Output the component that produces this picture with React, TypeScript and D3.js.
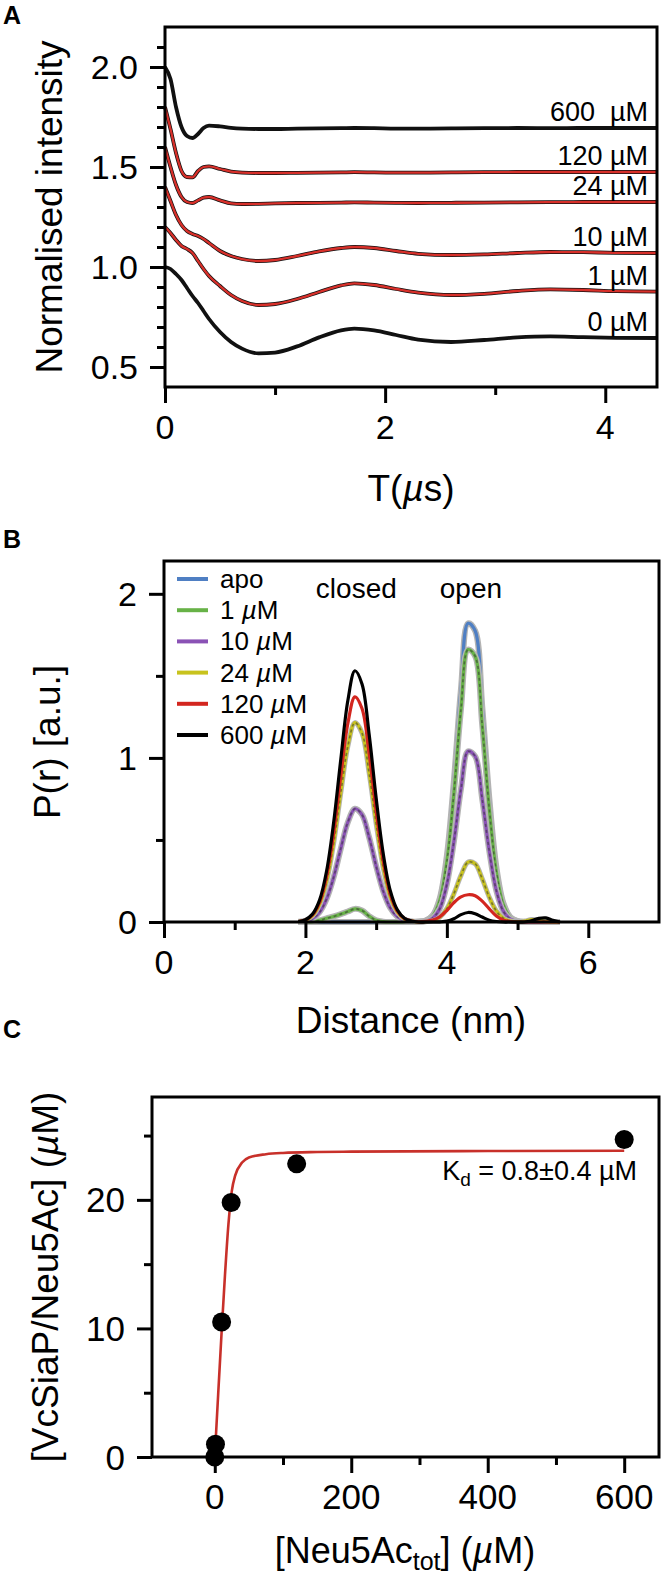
import React, { useEffect, useRef } from 'react';
import * as d3 from 'd3';

// ---------- panel A: DEER time traces ----------
const timeGrid = [0, 0.05, 0.1, 0.15, 0.2, 0.25, 0.3, 0.35, 0.4, 0.5, 0.6, 0.7, 0.85, 1.0, 1.2, 1.4, 1.6, 1.72, 1.9, 2.1, 2.3, 2.6, 2.9, 3.2, 3.5, 3.8, 4.1, 4.47];
const trace600 = [2.0, 1.94, 1.8, 1.7, 1.655, 1.645, 1.665, 1.695, 1.707, 1.703, 1.696, 1.692, 1.69, 1.69, 1.692, 1.693, 1.694, 1.695, 1.694, 1.692, 1.692, 1.693, 1.694, 1.695, 1.694, 1.695, 1.695, 1.695];
const trace120 = [1.8, 1.69, 1.57, 1.48, 1.45, 1.448, 1.48, 1.5, 1.503, 1.49, 1.477, 1.472, 1.47, 1.47, 1.471, 1.472, 1.473, 1.474, 1.473, 1.472, 1.472, 1.473, 1.474, 1.475, 1.475, 1.475, 1.475, 1.475];
const trace24 = [1.6, 1.5, 1.41, 1.35, 1.325, 1.32, 1.333, 1.347, 1.35, 1.333, 1.318, 1.315, 1.316, 1.318, 1.32, 1.321, 1.322, 1.323, 1.322, 1.321, 1.32, 1.321, 1.322, 1.323, 1.324, 1.325, 1.325, 1.325];
const trace10 = [1.4, 1.33, 1.26, 1.21, 1.18, 1.165, 1.155, 1.14, 1.12, 1.08, 1.055, 1.04, 1.03, 1.035, 1.055, 1.078, 1.095, 1.1, 1.095, 1.08, 1.066, 1.06, 1.063, 1.07, 1.075, 1.074, 1.071, 1.07];
const trace1 = [1.2, 1.17, 1.135, 1.105, 1.09, 1.07, 1.03, 0.99, 0.955, 0.905, 0.86, 0.83, 0.81, 0.815, 0.84, 0.875, 0.908, 0.918, 0.91, 0.89, 0.872, 0.86, 0.866, 0.88, 0.888, 0.885, 0.879, 0.877];
const trace0 = [1.0, 0.99, 0.965, 0.935, 0.895, 0.855, 0.82, 0.78, 0.74, 0.675, 0.625, 0.592, 0.568, 0.572, 0.603, 0.648, 0.683, 0.692, 0.683, 0.66, 0.637, 0.625, 0.635, 0.648, 0.653, 0.649, 0.646, 0.645];
const traceLabels = ['600\u00a0\u00a0µM', '120 µM', '24 µM', '10 µM', '1 µM', '0 µM'];
const traceHasFit = [false, true, true, true, true, false];

// ---------- panel B: distance distributions ----------
const distGrid = [1.9, 2.0, 2.1, 2.2, 2.3, 2.4, 2.5, 2.6, 2.7, 2.8, 2.9, 3.0, 3.1, 3.2, 3.3, 3.4, 3.5, 3.6, 3.7, 3.8, 3.9, 4.0, 4.1, 4.2, 4.3, 4.4, 4.5, 4.6, 4.7, 4.8, 4.9, 5.0, 5.1, 5.2, 5.3, 5.4, 5.5, 5.6];
const pApo = [0, 0, 0, 0, 0, 0, 0, 0, 0, 0, 0, 0, 0, 0, 0, 0, 0, 0.002, 0.009, 0.04, 0.144, 0.403, 0.863, 1.422, 1.82, 1.775, 1.314, 0.756, 0.335, 0.114, 0.029, 0.006, 0, 0, 0, 0, 0, 0];
const p1 = [0, 0, 0.002, 0.01, 0.022, 0.034, 0.048, 0.064, 0.08, 0.07, 0.036, 0.01, 0.002, 0, 0, 0, 0, 0.001, 0.008, 0.037, 0.132, 0.368, 0.788, 1.299, 1.66, 1.62, 1.2, 0.69, 0.306, 0.104, 0.027, 0.005, 0, 0, 0, 0, 0, 0];
const p10 = [0.001, 0.006, 0.021, 0.06, 0.141, 0.274, 0.447, 0.608, 0.69, 0.654, 0.517, 0.341, 0.188, 0.086, 0.033, 0.01, 0.003, 0.001, 0.005, 0.023, 0.082, 0.23, 0.492, 0.812, 1.04, 1.01, 0.75, 0.432, 0.191, 0.065, 0.017, 0.003, 0, 0, 0, 0, 0, 0];
const p24 = [0.002, 0.011, 0.038, 0.106, 0.248, 0.483, 0.787, 1.071, 1.215, 1.152, 0.91, 0.6, 0.331, 0.151, 0.059, 0.018, 0.005, 0, 0.002, 0.008, 0.029, 0.081, 0.173, 0.284, 0.365, 0.355, 0.263, 0.151, 0.067, 0.023, 0.006, 0.002, 0.006, 0.015, 0.012, 0.004, 0, 0];
const p120 = [0.003, 0.012, 0.043, 0.12, 0.28, 0.546, 0.889, 1.21, 1.372, 1.301, 1.028, 0.678, 0.373, 0.171, 0.066, 0.021, 0.006, 0.001, 0.004, 0.012, 0.032, 0.07, 0.118, 0.153, 0.166, 0.16, 0.127, 0.08, 0.036, 0.011, 0.003, 0, 0, 0, 0, 0, 0, 0];
const p600 = [0.003, 0.014, 0.048, 0.133, 0.312, 0.609, 0.991, 1.35, 1.531, 1.451, 1.147, 0.756, 0.417, 0.191, 0.074, 0.023, 0.006, 0, 0, 0, 0.001, 0.005, 0.02, 0.045, 0.058, 0.05, 0.03, 0.011, 0.003, 0, 0, 0, 0, 0.008, 0.022, 0.025, 0.01, 0];
const legendConc = ['apo', '1', '10', '24', '120', '600'];
const seriesColors = ['#4f7fc3', '#67b247', '#8a52b5', '#c8c31e', '#d3261f', '#000000'];
const bandWidths = [6, 6, 6, 5, 0, 0];
const dashedOverlay = [false, true, true, true, false, false];

// ---------- panel C: binding curve ----------
const ligandTot = [0, 1, 10, 24, 120, 600];
const boundConc = [0, 1.0, 10.5, 19.8, 22.8, 24.7];
const fitLigand = [0, 5, 10, 15, 20, 25, 30, 40, 50, 75, 100, 150, 200, 400, 600];
const fitBound = [0, 4.9, 9.7, 14.2, 18.1, 20.7, 21.9, 22.9, 23.3, 23.55, 23.65, 23.72, 23.75, 23.8, 23.82];

const FONT = 'Liberation Sans, Arial, Helvetica, sans-serif';

function drawAxes(g, x, y, o) {
  const [x0, x1] = x.range();
  const [yb, yt] = y.range();
  const ticks = (axis, tr) => g.append('g').attr('transform', tr).call(axis)
    .call(s => s.select('.domain').remove())
    .call(s => s.selectAll('line').attr('stroke-width', 3));
  ticks(d3.axisBottom(x).tickValues(o.xMajor).tickSize(16).tickSizeOuter(0).tickFormat(() => ''), `translate(0,${yb})`);
  ticks(d3.axisBottom(x).tickValues(o.xMinor).tickSize(8).tickSizeOuter(0).tickFormat(() => ''), `translate(0,${yb})`);
  ticks(d3.axisLeft(y).tickValues(o.yMajor).tickSize(15).tickSizeOuter(0).tickFormat(() => ''), `translate(${x0},0)`);
  ticks(d3.axisLeft(y).tickValues(o.yMinor).tickSize(8).tickSizeOuter(0).tickFormat(() => ''), `translate(${x0},0)`);

  g.append('rect')
    .attr('x', x0).attr('y', yt)
    .attr('width', x1 - x0).attr('height', yb - yt)
    .attr('fill', 'none').attr('stroke', '#000').attr('stroke-width', 3);

  g.selectAll(null).data(o.xMajor).enter().append('text')
    .attr('x', d => x(d)).attr('y', yb + 52)
    .attr('text-anchor', 'middle').attr('font-size', o.tickSize || 34)
    .text(o.xFmt);
  g.selectAll(null).data(o.yMajor).enter().append('text')
    .attr('x', x0 - 27).attr('y', d => y(d)).attr('dy', '0.36em')
    .attr('text-anchor', 'end').attr('font-size', o.tickSize || 34)
    .text(o.yFmt);
}

function muText(sel, before, after) {
  sel.append('tspan').text(before);
  sel.append('tspan').attr('font-style', 'italic').text('µ');
  sel.append('tspan').text(after);
}

const App = () => {
  const svgRef = useRef(null);

  useEffect(() => {
    const svg = d3.select(svgRef.current);
    svg.selectAll('*').remove();
    svg.attr('font-family', FONT);

    // ===== Panel A =====
    const gA = svg.append('g');
    const xA = d3.scaleLinear().domain([0, 4.47]).range([165, 657]);
    const yA = d3.scaleLinear().domain([0.4, 2.2]).range([387, 27]);
    const lineA = d3.line().x(d => xA(d[0])).y(d => yA(d[1])).curve(d3.curveMonotoneX);
    const traces = [trace600, trace120, trace24, trace10, trace1, trace0];

    traces.forEach((tr, i) => {
      const pts = timeGrid.map((t, k) => [t, tr[k]]);
      gA.append('path').attr('d', lineA(pts)).attr('fill', 'none')
        .attr('stroke', '#111').attr('stroke-width', 3.8).attr('stroke-linejoin', 'round');
      if (traceHasFit[i]) {
        gA.append('path').attr('d', lineA(pts)).attr('fill', 'none')
          .attr('stroke', '#d8302a').attr('stroke-width', 2.3);
      }
      gA.append('text')
        .attr('x', 648).attr('y', yA(tr[tr.length - 1]) - 7)
        .attr('text-anchor', 'end').attr('font-size', 27)
        .text(traceLabels[i]);
    });

    drawAxes(gA, xA, yA, {
      xMajor: [0, 2, 4], xMinor: [1, 3],
      yMajor: [0.5, 1.0, 1.5, 2.0],
      yMinor: d3.range(6, 22).map(v => v / 10).filter(v => Math.abs(v * 2 - Math.round(v * 2)) > 0.01),
      xFmt: d => String(d), yFmt: d => d.toFixed(1),
    });

    gA.append('text').attr('transform', 'translate(62,207) rotate(-90)')
      .attr('text-anchor', 'middle').attr('font-size', 37).text('Normalised intensity');
    gA.append('text').attr('x', 411).attr('y', 501).attr('text-anchor', 'middle').attr('font-size', 37)
      .call(s => muText(s, 'T(', 's)'));
    gA.append('text').attr('x', 3).attr('y', 24).attr('font-size', 25).attr('font-weight', 'bold').text('A');

    // ===== Panel B =====
    const gB = svg.append('g');
    const xB = d3.scaleLinear().domain([0, 7]).range([164, 659]);
    const yB = d3.scaleLinear().domain([0, 2.2]).range([922, 561]);
    const lineB = d3.line().x(d => xB(d[0])).y(d => yB(Math.max(0, d[1]))).curve(d3.curveCatmullRom.alpha(0.5));
    const dists = [pApo, p1, p10, p24, p120, p600];

    dists.forEach((p, i) => {
      const pts = distGrid.map((r, k) => [r, p[k]]);
      if (bandWidths[i] > 0) {
        gB.append('path').attr('d', lineB(pts)).attr('fill', 'none')
          .attr('stroke', '#b4b4b4').attr('stroke-width', bandWidths[i]).attr('stroke-linejoin', 'round');
      }
      gB.append('path').attr('d', lineB(pts)).attr('fill', 'none')
        .attr('stroke', seriesColors[i]).attr('stroke-width', 3.2);
      if (dashedOverlay[i]) {
        gB.append('path').attr('d', lineB(pts)).attr('fill', 'none')
          .attr('stroke', '#333').attr('stroke-opacity', 0.55)
          .attr('stroke-width', 1.6).attr('stroke-dasharray', '3 3');
      }
    });

    drawAxes(gB, xB, yB, {
      xMajor: [0, 2, 4, 6], xMinor: [1, 3, 5],
      yMajor: [0, 1, 2], yMinor: [0.5, 1.5],
      xFmt: d => String(d), yFmt: d => String(d),
    });

    legendConc.forEach((c, i) => {
      const cy = 579 + i * 31.2;
      gB.append('line').attr('x1', 177).attr('x2', 208).attr('y1', cy).attr('y2', cy)
        .attr('stroke', seriesColors[i]).attr('stroke-width', 4);
      const t = gB.append('text').attr('x', 220).attr('y', cy + 9).attr('font-size', 26);
      if (c === 'apo') t.text('apo');
      else muText(t, `${c} `, 'M');
    });

    gB.append('text').attr('x', xB(2.72)).attr('y', 598).attr('text-anchor', 'middle').attr('font-size', 28).text('closed');
    gB.append('text').attr('x', xB(4.34)).attr('y', 598).attr('text-anchor', 'middle').attr('font-size', 28).text('open');

    gB.append('text').attr('transform', 'translate(60,742) rotate(-90)')
      .attr('text-anchor', 'middle').attr('font-size', 37).text('P(r) [a.u.]');
    gB.append('text').attr('x', 411).attr('y', 1033).attr('text-anchor', 'middle').attr('font-size', 37).text('Distance (nm)');
    gB.append('text').attr('x', 3).attr('y', 548).attr('font-size', 25).attr('font-weight', 'bold').text('B');

    // ===== Panel C =====
    const gC = svg.append('g');
    const xC = d3.scaleLinear().domain([-92, 651]).range([152, 659]);
    const yC = d3.scaleLinear().domain([0, 28]).range([1457, 1097]);
    const lineC = d3.line().x(d => xC(d[0])).y(d => yC(d[1])).curve(d3.curveMonotoneX);

    gC.append('path').attr('d', lineC(fitLigand.map((l, k) => [l, fitBound[k]])))
      .attr('fill', 'none').attr('stroke', '#c8302a').attr('stroke-width', 2.6);

    drawAxes(gC, xC, yC, {
      xMajor: [0, 200, 400, 600], xMinor: [100, 300, 500],
      yMajor: [0, 10, 20], yMinor: [5, 15, 25],
      xFmt: d => String(d), yFmt: d => String(d), tickSize: 35,
    });

    gC.selectAll('circle').data(ligandTot).enter().append('circle')
      .attr('cx', d => xC(d)).attr('cy', (d, k) => yC(boundConc[k]))
      .attr('r', 9.5).attr('fill', '#000');

    const kd = gC.append('text').attr('x', 637).attr('y', 1180).attr('text-anchor', 'end').attr('font-size', 27);
    kd.append('tspan').text('K');
    kd.append('tspan').attr('font-size', 19).attr('dy', 6).text('d');
    kd.append('tspan').attr('dy', -6).text(' = 0.8±0.4 µM');

    gC.append('text').attr('transform', 'translate(58,1277) rotate(-90)')
      .attr('text-anchor', 'middle').attr('font-size', 37)
      .call(s => muText(s, '[VcSiaP/Neu5Ac] (', 'M)'));
    const xt = gC.append('text').attr('x', 405).attr('y', 1563).attr('text-anchor', 'middle').attr('font-size', 36);
    xt.append('tspan').text('[Neu5Ac');
    xt.append('tspan').attr('font-size', 25).attr('dy', 7).text('tot');
    xt.append('tspan').attr('dy', -7).text('] (');
    xt.append('tspan').attr('font-style', 'italic').text('µ');
    xt.append('tspan').text('M)');
    gC.append('text').attr('x', 3).attr('y', 1038).attr('font-size', 25).attr('font-weight', 'bold').text('C');
  }, []);

  return (
    <svg ref={svgRef} width={664} height={1579}
      style={{ position: 'absolute', left: 0, top: 0, background: '#fff' }}></svg>
  );
};

export default App;
